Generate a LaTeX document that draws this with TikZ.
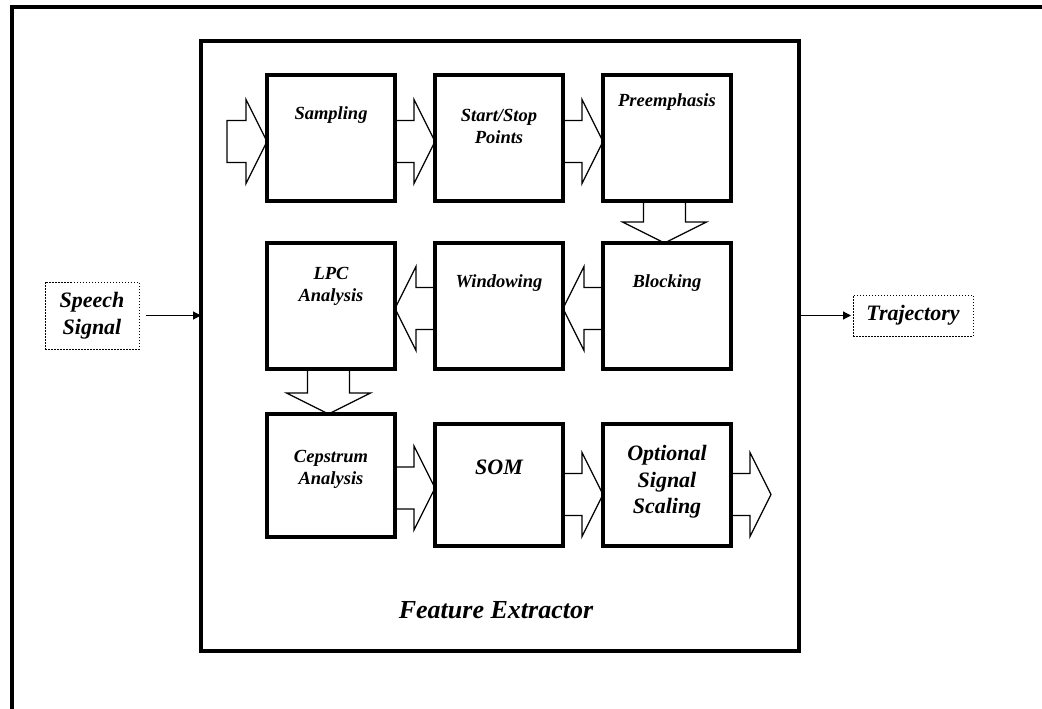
\documentclass[tikz,border=0pt]{standalone}
\usepackage{fontspec}
\setmainfont{Liberation Serif}
\usetikzlibrary{arrows.meta,positioning}

\newcommand{\fsmall}{\fontsize{18.5}{22}\selectfont}
\newcommand{\fmid}{\fontsize{22}{26.5}\selectfont}
\newcommand{\fbig}{\fontsize{26}{30}\selectfont}

% hollow block arrow, #1 = length from tail to tip
\tikzset{pics/fatarrow/.style={code={
  \draw[line width=1.3pt,line join=miter] (0,-21) -- (#1-21,-21) -- (#1-21,-42) -- (#1,0)
    -- (#1-21,42) -- (#1-21,21) -- (0,21) -- cycle;
}}}

\begin{document}
\begin{tikzpicture}[x=1pt,y=-1pt,>={Triangle[length=8pt,width=8pt]},node distance=40pt]
  \tikzstyle{blk}=[draw,line width=3.2pt,outer sep=0pt,minimum width=128pt,minimum height=126pt]
  \tikzstyle{txt}=[font=\fsmall\bfseries\itshape,align=center,inner sep=0pt]
  \tikzstyle{iobox}=[draw,line width=1pt,dash pattern=on 1.5pt off 1.5pt,outer sep=0pt,
    font=\fmid\bfseries\itshape,align=center]

  \useasboundingbox (0,0) rectangle (1042,709);
  \draw[line width=4pt] (12,709) -- (12,7) -- (1042,7);

  \node[draw,line width=3.5pt,outer sep=0pt,minimum width=598pt,minimum height=610pt] (fex) at (500,346) {};

  \node[blk] (smp) at (331,138) {};
  \node[blk] (ssp) [right=of smp] {};
  \node[blk] (pre) [right=of ssp] {};
  \node[blk] (blo) [below=42pt of pre] {};
  \node[blk] (win) [left=of blo] {};
  \node[blk] (lpc) [left=of win] {};
  \node[blk,minimum height=123pt] (cep) [below=45pt of lpc] {};
  \node[blk,minimum height=122pt] (som) [below=55pt of win] {};
  \node[blk,minimum height=122pt] (osc) [right=of som] {};

  \node[txt] (smpT) at ([yshift=-40pt]smp.north) {Sampling};
  \node[txt] (sspT) at ([yshift=-51pt]ssp.north) {Start/Stop\\Points};
  \node[txt] (preT) at ([yshift=-27pt]pre.north) {Preemphasis};
  \node[txt] (bloT) at ([yshift=-40pt]blo.north) {Blocking};
  \node[txt] (winT) at ([yshift=-40pt]win.north) {Windowing};
  \node[txt] (lpcT) at ([yshift=-43pt]lpc.north) {LPC\\Analysis};
  \node[txt] (cepT) at ([yshift=-55pt]cep.north) {Cepstrum\\Analysis};
  \node[txt,font=\fmid\bfseries\itshape] (somT) at ([yshift=-43.5pt]som.north) {SOM};
  \node[txt,font=\fmid\bfseries\itshape] (oscT) at ([yshift=-58pt]osc.north) {Optional\\Signal\\Scaling};
  \node[txt,font=\fbig\bfseries\itshape] (fexT) at ([xshift=-4pt,yshift=41pt]fex.south) {Feature Extractor};

  \pic at ([xshift=-40pt,yshift=-3.5pt]smp.west) {fatarrow=40};
  \pic at ([yshift=-3.5pt]smp.east) {fatarrow=40};
  \pic at ([yshift=-3.5pt]ssp.east) {fatarrow=40};
  \pic[rotate=-90] at ([xshift=-2.5pt]pre.south) {fatarrow=42};
  \pic[rotate=180] at ([yshift=-2.5pt]blo.west) {fatarrow=40};
  \pic[rotate=180] at ([yshift=-2.5pt]win.west) {fatarrow=40};
  \pic[rotate=-90] at ([xshift=-2.5pt]lpc.south) {fatarrow=45};
  \pic at ([yshift=-12.5pt]cep.east) {fatarrow=40};
  \pic at ([yshift=-9.5pt]som.east) {fatarrow=40};
  \pic at ([yshift=-9.5pt]osc.east) {fatarrow=40};

  \node[iobox,minimum width=94pt,minimum height=67pt] (sig) at (92,315.5) {Speech\\Signal};
  \node[iobox,minimum width=120pt,minimum height=41pt] (trj) at (913,315.5) {Trajectory};

  \draw[->,line width=1.2pt,shorten <=7pt] (sig.east) -- (sig.east -| fex.west);
  \draw[->,line width=1.2pt,shorten >=2pt] (fex.east |- trj.west) -- (trj.west);
\end{tikzpicture}
\end{document}
